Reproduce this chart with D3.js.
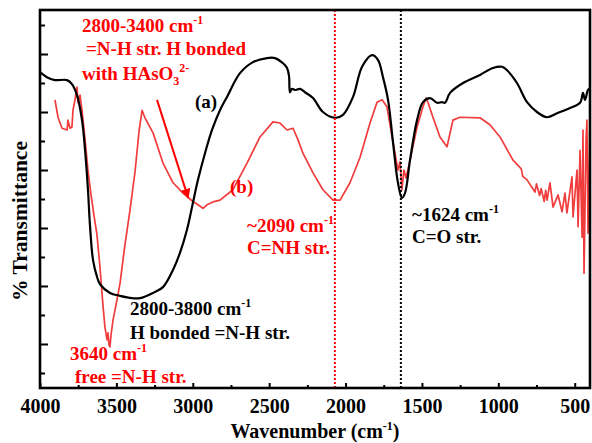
<!DOCTYPE html>
<html>

<head>
  <meta charset="utf-8">
  <title>FTIR spectra</title>
  <script src="https://cdn.jsdelivr.net/npm/d3@7"></script>
</head>
<style type="text/css">
  body {
    margin: 0;
    background-color: #ffffff;
  }

  text {
    font-family: "Liberation Serif", "Times New Roman", serif;
    font-weight: bold;
  }

  .tick text {
    font-size: 20px;
    fill: #000000;
  }

  .axis path {
    display: none;
  }

  .axis line {
    stroke: #000000;
    stroke-width: 2;
  }
</style>

<body>
  <svg width="592" height="443" id="mainsvg"></svg>
  <script>
    // spectrum (a): wavenumber (cm-1) and transmittance (arb. units)
    const waveA = [4000, 3948, 3902, 3823, 3791, 3758, 3725, 3705, 3686, 3673, 3653, 3627, 3607, 3542, 3476, 3398, 3345, 3260, 3195, 3129, 3084, 3038, 3005, 2966, 2920, 2874, 2822, 2776, 2691, 2606, 2514, 2462, 2409, 2383, 2370, 2364, 2351, 2331, 2298, 2265, 2213, 2148, 2069, 2017, 1951, 1892, 1827, 1788, 1755, 1722, 1689, 1657, 1631, 1611, 1578, 1532, 1493, 1447, 1401, 1369, 1349, 1316, 1231, 1120, 1035, 976, 943, 878, 812, 747, 681, 616, 531, 465, 446, 433, 413, 400];
    const transA = [56.9, 55.9, 55.5, 55.5, 54.8, 52.9, 48.6, 43.4, 36.6, 30.5, 24.5, 21.6, 20.3, 18.8, 18.3, 17.9, 17.9, 18.8, 19.8, 22.8, 25.7, 29.7, 33.6, 38.3, 42.9, 46.9, 50.3, 52.6, 56.7, 58.6, 59.3, 59.3, 58.4, 57.6, 56.2, 53.4, 54.0, 53.8, 54.0, 53.4, 52.4, 50.0, 49.0, 49.5, 52.6, 57.8, 59.8, 59.0, 56.0, 52.1, 44.7, 37.8, 35.2, 36.0, 41.7, 48.6, 51.7, 52.4, 51.6, 51.7, 51.6, 53.3, 55.0, 56.4, 57.6, 57.8, 57.2, 55.0, 51.7, 50.0, 49.1, 49.8, 50.7, 51.6, 53.3, 52.1, 53.8, 54.1];

    // spectrum (b)
    const waveB = [3902, 3882, 3856, 3823, 3817, 3804, 3791, 3784, 3771, 3758, 3751, 3738, 3725, 3705, 3686, 3666, 3647, 3627, 3607, 3588, 3575, 3561, 3555, 3548, 3542, 3535, 3522, 3496, 3476, 3444, 3411, 3378, 3352, 3332, 3313, 3260, 3195, 3129, 3064, 3005, 2966, 2933, 2907, 2868, 2822, 2737, 2645, 2560, 2475, 2429, 2383, 2344, 2311, 2279, 2213, 2148, 2082, 2036, 1971, 1905, 1840, 1794, 1761, 1729, 1689, 1657, 1644, 1631, 1618, 1604, 1578, 1532, 1493, 1473, 1460, 1428, 1382, 1336, 1297, 1251, 1120, 1055, 989, 904, 850, 840, 812, 760, 750, 730, 720, 700, 690, 681, 662, 642, 609, 583, 564, 551, 518, 511, 485, 478, 465, 452, 446, 439, 426, 420, 413, 406, 400];
    const transB = [52.1, 49.1, 47.2, 46.9, 48.6, 47.2, 47.4, 50.3, 52.1, 54.3, 51.6, 52.9, 50.3, 45.2, 40.0, 35.7, 32.2, 28.8, 23.1, 16.7, 12.9, 10.7, 11.9, 9.8, 9.5, 11.6, 14.1, 17.6, 20.5, 27.1, 33.1, 39.7, 46.6, 50.3, 49.0, 46.4, 41.2, 37.8, 36.0, 34.7, 34.0, 33.4, 34.0, 34.5, 34.8, 36.6, 41.2, 45.7, 48.3, 48.1, 46.9, 47.2, 45.2, 42.9, 39.5, 36.6, 34.8, 34.8, 37.8, 42.2, 48.1, 51.7, 52.1, 50.9, 44.7, 40.0, 41.4, 36.6, 40.0, 38.6, 41.7, 47.4, 50.9, 52.4, 51.6, 49.1, 45.7, 44.0, 48.6, 49.1, 49.0, 47.8, 45.7, 41.7, 40.2, 38.9, 38.3, 36.2, 37.6, 35.6, 36.8, 34.6, 36.5, 34.8, 37.8, 33.6, 35.7, 32.8, 36.0, 32.6, 38.8, 31.9, 40.0, 30.2, 43.4, 28.4, 46.9, 22.2, 45.2, 48.6, 29.1, 38.3, 50.3];

    const xMajorTicks = [4000, 3500, 3000, 2500, 2000, 1500, 1000, 500];
    const xMinorTicks = [3750, 3250, 2750, 2250, 1750, 1250, 750];
    const yMajorTicks = [10, 20, 30, 40, 50, 60];
    const yMinorTicks = [5, 15, 25, 35, 45, 55, 65];
    const peakLines = [2070, 1638];

    const svg = d3.select('#mainsvg');
    const margin = { top: 10, right: 2, bottom: 55, left: 40 };
    const width = +svg.attr('width');
    const height = +svg.attr('height');
    const innerWidth = width - margin.left - margin.right;
    const innerHeight = height - margin.top - margin.bottom;

    const xScale = d3.scaleLinear().domain([4000, 400]).range([0, innerWidth]);
    const yScale = d3.scaleLinear().domain([2.41, 67.59]).range([innerHeight, 0]);

    const g = svg.append('g').attr('transform', `translate(${margin.left}, ${margin.top})`);

    g.append('clipPath').attr('id', 'plotclip')
      .append('rect').attr('width', innerWidth).attr('height', innerHeight);

    // axes (ticks point inward)
    const xAxis = g.append('g').attr('class', 'axis')
      .attr('transform', `translate(0, ${innerHeight})`)
      .call(d3.axisBottom(xScale).tickValues(xMajorTicks).tickSize(-5).tickFormat(d3.format('d')));
    xAxis.selectAll('text').attr('y', 25).attr('dy', 0);
    g.append('g').attr('class', 'axis')
      .attr('transform', `translate(0, ${innerHeight})`)
      .call(d3.axisBottom(xScale).tickValues(xMinorTicks).tickSize(-3).tickFormat(''));
    g.append('g').attr('class', 'axis')
      .call(d3.axisLeft(yScale).tickValues(yMajorTicks).tickSize(-8).tickFormat(''));
    g.append('g').attr('class', 'axis')
      .call(d3.axisLeft(yScale).tickValues(yMinorTicks).tickSize(-5).tickFormat(''));

    const seriesA = waveA.map((w, i) => ({ w: w, t: transA[i] }));
    const seriesB = waveB.map((w, i) => ({ w: w, t: transB[i] }));

    const Line = d3.line()
      .x(d => xScale(d.w))
      .y(d => yScale(d.t));

    const curves = g.append('g').attr('clip-path', 'url(#plotclip)');
    curves.append('path')
      .attr('d', Line(seriesB))
      .style('fill', 'none')
      .style('stroke', '#f03c3c')
      .style('stroke-width', 1.7)
      .style('stroke-linejoin', 'round');
    curves.append('path')
      .attr('d', Line.curve(d3.curveCatmullRom.alpha(0.5))(seriesA))
      .style('fill', 'none')
      .style('stroke', '#000000')
      .style('stroke-width', 2.2);

    // dotted peak markers
    g.selectAll('.peakline')
      .data(peakLines)
      .enter()
      .append('line')
      .attr('class', 'peakline')
      .attr('x1', d => xScale(d)).attr('x2', d => xScale(d))
      .attr('y1', 0).attr('y2', innerHeight)
      .style('stroke', (d, i) => i === 0 ? '#ff0000' : '#000000')
      .style('stroke-width', 2)
      .style('stroke-dasharray', '2,2');

    // frame
    g.append('rect')
      .attr('width', innerWidth).attr('height', innerHeight)
      .style('fill', 'none')
      .style('stroke', '#000000')
      .style('stroke-width', 2.6);

    // arrow
    svg.append('defs').append('marker')
      .attr('id', 'arrowhead')
      .attr('viewBox', '0 0 10 10')
      .attr('refX', 9).attr('refY', 5)
      .attr('markerWidth', 5).attr('markerHeight', 5)
      .attr('orient', 'auto')
      .append('path').attr('d', 'M0,0 L10,5 L0,10 z').attr('fill', '#ff0000');
    g.append('line')
      .attr('x1', xScale(3234)).attr('y1', yScale(52.1))
      .attr('x2', xScale(3030)).attr('y2', yScale(35.2))
      .style('stroke', '#ff0000')
      .style('stroke-width', 2)
      .attr('marker-end', 'url(#arrowhead)');

    // annotations: [x, y, colour, parts]; part = [text, 'sup' | 'sub' | '']
    const notes = [
      [82, 32, '#ff0000', [['2800-3400 cm', ''], ['-1', 'sup']]],
      [86, 55, '#ff0000', [['=N-H str. H bonded', '']]],
      [82, 80, '#ff0000', [['with HAsO', ''], ['3', 'sub'], ['2-', 'sup']]],
      [195, 108, '#000000', [['(a)', '']]],
      [230, 193, '#ff0000', [['(b)', '']]],
      [247, 232, '#ff0000', [['~2090 cm', ''], ['-1', 'sup']]],
      [247, 254, '#ff0000', [['C=NH str.', '']]],
      [412, 221, '#000000', [['~1624 cm', ''], ['-1', 'sup']]],
      [412, 243, '#000000', [['C=O str.', '']]],
      [130, 315, '#000000', [['2800-3800 cm', ''], ['-1', 'sup']]],
      [130, 339, '#000000', [['H bonded =N-H str.', '']]],
      [70, 360, '#ff0000', [['3640 cm', ''], ['-1', 'sup']]],
      [75, 383, '#ff0000', [['free =N-H str.', '']]]
    ];

    const addRichText = function (parent, x, y, color, parts, size) {
      const t = parent.append('text')
        .attr('x', x).attr('y', y)
        .attr('fill', color)
        .style('font-size', size + 'px');
      let shift = 0;
      parts.forEach(p => {
        const target = p[1] === 'sup' ? -8 : (p[1] === 'sub' ? 5 : 0);
        t.append('tspan')
          .attr('dy', target - shift)
          .style('font-size', p[1] ? Math.round(size * 0.62) + 'px' : size + 'px')
          .text(p[0]);
        shift = target;
      });
      return t;
    };

    notes.forEach(n => addRichText(svg, n[0], n[1], n[2], n[3], 19));

    // axis titles
    const xt = addRichText(svg, 315, 438, '#000000', [['Wavenumber (cm', ''], ['-1', 'sup'], [')', '']], 20);
    xt.attr('text-anchor', 'middle');
    svg.append('text')
      .attr('transform', 'translate(27, 221) rotate(-90)')
      .attr('text-anchor', 'middle')
      .style('font-size', '21.5px')
      .text('% Transmittance');
  </script>
</body>

</html>
